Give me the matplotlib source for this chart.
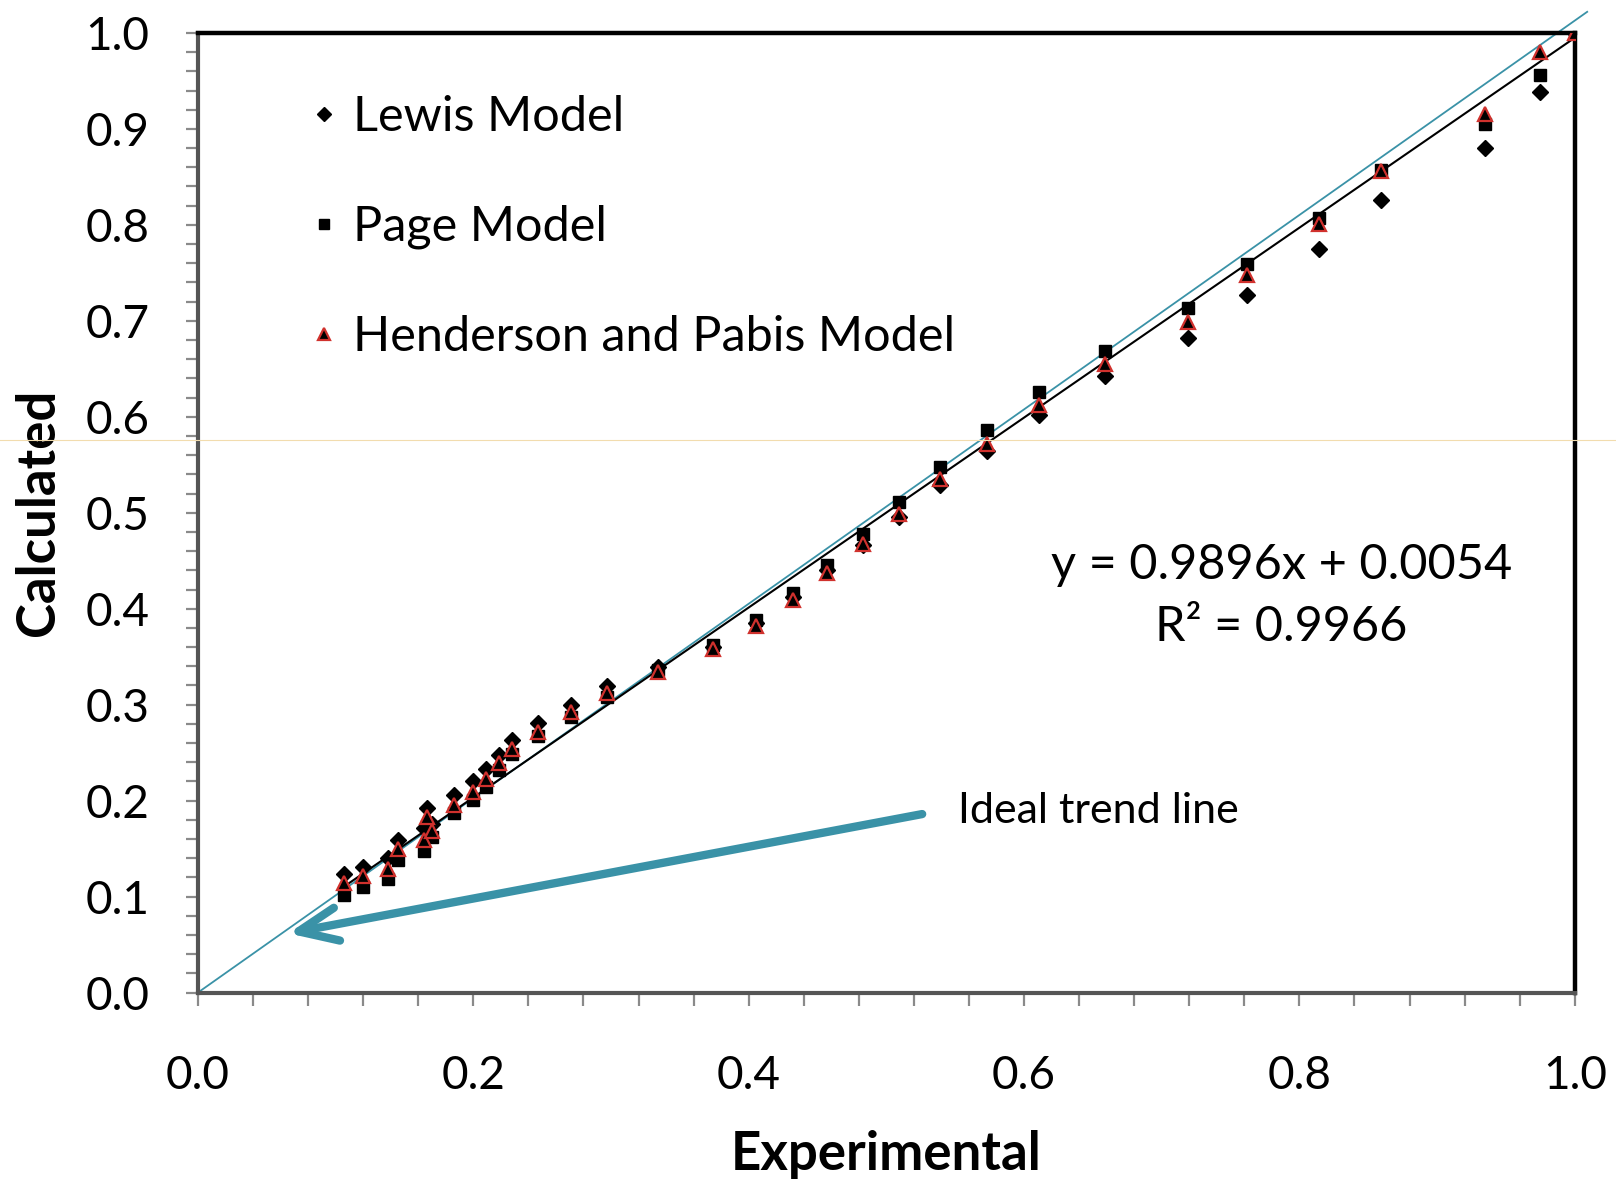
import numpy as np
import matplotlib
matplotlib.use("Agg")
import matplotlib.pyplot as plt
from matplotlib.lines import Line2D
from matplotlib.ticker import MultipleLocator, FormatStrFormatter

# ==========================================
# DATA
# ==========================================
experimental = [0.106, 0.120, 0.138, 0.145, 0.164, 0.166, 0.170, 0.186, 0.200,
                0.209, 0.219, 0.228, 0.247, 0.271, 0.297, 0.334, 0.374, 0.405,
                0.432, 0.457, 0.483, 0.509, 0.539, 0.573, 0.611, 0.659, 0.719,
                0.762, 0.814, 0.859, 0.935, 0.975, 1.000]
lewis = [0.124, 0.131, 0.140, 0.159, 0.171, 0.192, 0.176, 0.206, 0.220,
         0.233, 0.248, 0.263, 0.281, 0.300, 0.319, 0.339, 0.360, 0.385,
         0.412, 0.440, 0.466, 0.496, 0.529, 0.564, 0.602, 0.643, 0.682,
         0.727, 0.775, 0.826, 0.880, 0.938, 1.000]
page = [0.102, 0.110, 0.118, 0.138, 0.148, 0.174, 0.162, 0.187, 0.201,
        0.214, 0.232, 0.249, 0.267, 0.287, 0.308, 0.336, 0.362, 0.388,
        0.416, 0.446, 0.478, 0.511, 0.548, 0.586, 0.626, 0.669, 0.713,
        0.759, 0.807, 0.857, 0.905, 0.956, 1.000]
henderson = [0.114, 0.121, 0.129, 0.150, 0.159, 0.183, 0.168, 0.195, 0.209,
             0.223, 0.239, 0.254, 0.272, 0.292, 0.312, 0.334, 0.358, 0.382,
             0.409, 0.437, 0.467, 0.499, 0.535, 0.572, 0.612, 0.655, 0.699,
             0.748, 0.801, 0.856, 0.916, 0.980, 1.000]

SLOPE, INTERCEPT, R2 = 0.9896, 0.0054, 0.9966
# the hand-drawn "ideal" line, as it sits in the picture (origin -> just past the corner)
ideal_x = [0.0, 1.009]
ideal_y = [0.0, 1.022]
SERIES_LABELS = ["Lewis Model", "Page Model", "Henderson and Pabis Model"]

TEAL = "#3a92a7"
RED = "#d0312d"
FONT = "Lato"

plt.rcParams['font.family'] = [FONT, 'DejaVu Sans']

fig = plt.figure(figsize=(16.16, 11.85), dpi=100)
ax = fig.add_axes([0.1225, 0.1624, 0.852, 0.8098])

x = np.array(experimental)

# ideal line and fitted trend line
ax.plot(ideal_x, ideal_y, color=TEAL, lw=1.3, clip_on=False, zorder=2)
ax.plot([x.min(), x.max()], [SLOPE * x.min() + INTERCEPT, SLOPE * x.max() + INTERCEPT],
        color='black', lw=1.5, zorder=2)

ax.plot(x, lewis, 'D', color='black', ms=8.5, ls='none', label=SERIES_LABELS[0], zorder=3)
ax.plot(x, page, 's', color='black', ms=8.5, ls='none', label=SERIES_LABELS[1], zorder=4)
ax.plot(x, henderson, '^', mfc='black', mec=RED, mew=1.6, ms=9.5, ls='none',
        label=SERIES_LABELS[2], zorder=5)

ax.set_xlim(0, 1)
ax.set_ylim(0, 1)

# --- ticks and spines ---
ax.xaxis.set_major_locator(MultipleLocator(0.2))
ax.xaxis.set_minor_locator(MultipleLocator(0.04))
ax.yaxis.set_major_locator(MultipleLocator(0.1))
ax.yaxis.set_minor_locator(MultipleLocator(0.02))
ax.xaxis.set_major_formatter(FormatStrFormatter('%.1f'))
ax.yaxis.set_major_formatter(FormatStrFormatter('%.1f'))
ax.tick_params(which='both', direction='out', length=9, width=1.6, color='#8a8a8a',
               top=False, right=False)
ax.tick_params(axis='x', which='major', pad=36, labelsize=33)
ax.tick_params(axis='y', which='major', pad=26, labelsize=33)

for side in ['top', 'right']:
    ax.spines[side].set_color('black')
    ax.spines[side].set_linewidth(3.2)
for side in ['left', 'bottom']:
    ax.spines[side].set_color('#555555')
    ax.spines[side].set_linewidth(3.0)

ax.set_xlabel("Experimental", fontsize=38, fontweight='bold', labelpad=24)
ax.set_ylabel("Calculated", fontsize=38, fontweight='bold', labelpad=16)

# --- legend ---
ax.legend(loc='center left', bbox_to_anchor=(0.081, 0.798), frameon=False,
          fontsize=35, labelspacing=1.35, handlelength=0.6, handletextpad=0.3,
          borderpad=0, borderaxespad=0, markerscale=0.85)

# --- annotations ---
ax.text(0.787, 0.446, f"y = {SLOPE}x + {INTERCEPT}", fontsize=35, ha='center', va='center')
ax.text(0.787, 0.381, f"R² = {R2}", fontsize=35, ha='center', va='center')
ax.text(0.552, 0.189, "Ideal trend line", fontsize=31, ha='left', va='center')
ax.annotate('', xy=(0.0656, 0.0617), xytext=(0.526, 0.186),
            arrowprops=dict(arrowstyle='->, head_length=2.8, head_width=1.2',
                            lw=6, color=TEAL, mutation_scale=10,
                            capstyle='round', joinstyle='round',
                            shrinkA=0, shrinkB=0))

# stray faint guide line across the whole picture
fig.add_artist(Line2D([0, 1], [0.6287, 0.6287], transform=fig.transFigure,
                      color='#f2dcae', lw=0.8))

fig.savefig("out.png", dpi=100)
